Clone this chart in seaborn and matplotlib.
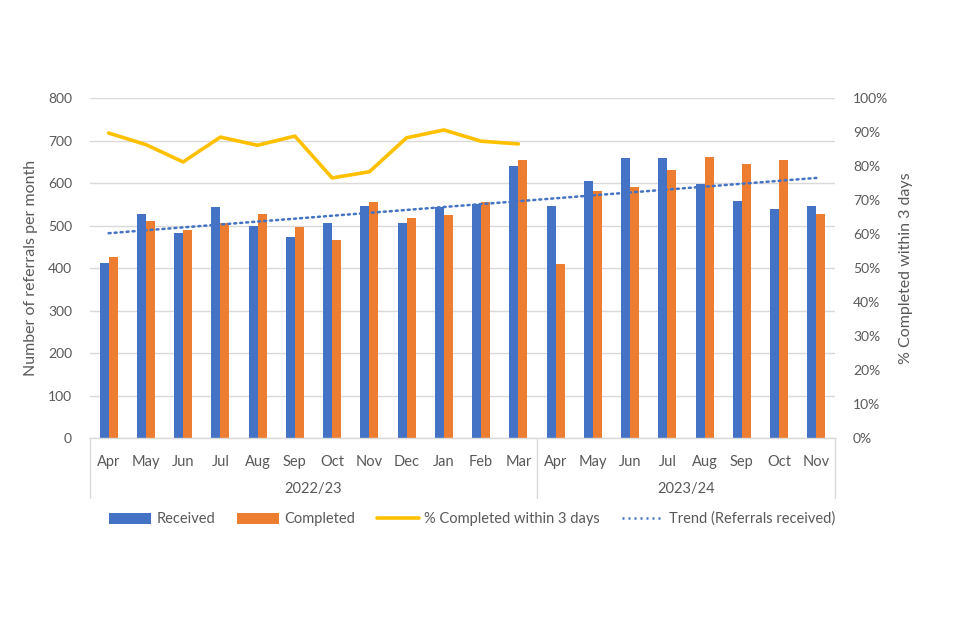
import numpy as np
import pandas as pd
import matplotlib
matplotlib.use("Agg")
import matplotlib.pyplot as plt
import matplotlib.transforms as mtransforms
from matplotlib.lines import Line2D
from matplotlib.patches import Patch
import seaborn as sns

# ---- data ----
months = ["Apr", "May", "Jun", "Jul", "Aug", "Sep", "Oct", "Nov", "Dec", "Jan", "Feb", "Mar",
          "Apr", "May", "Jun", "Jul", "Aug", "Sep", "Oct", "Nov"]
years = ["2022/23"] * 12 + ["2023/24"] * 8
received = [412, 526, 483, 544, 499, 474, 506, 547, 505, 543, 551, 640,
            545, 605, 660, 659, 597, 558, 540, 545]
completed = [426, 511, 490, 505, 526, 497, 467, 555, 518, 525, 555, 653,
             410, 581, 591, 631, 662, 644, 653, 528]
pct_within_3 = [0.897, 0.863, 0.812, 0.885, 0.861, 0.888, 0.765, 0.783,
                0.883, 0.906, 0.873, 0.865]
year_labels = ["2022/23", "2023/24"]

GREY = "#595959"
BLUE = "#4472C4"
ORANGE = "#ED7D31"
YELLOW = "#FFC000"

sns.set_theme(style="white")
plt.rcParams["font.family"] = ["Lato", "DejaVu Sans"]
FS = 10.5

cats = [f"{y} {m}" for y, m in zip(years, months)]
df = pd.DataFrame({
    "cat": cats * 2,
    "value": received + completed,
    "series": ["Received"] * len(cats) + ["Completed"] * len(cats),
})

fig = plt.figure(figsize=(9.6, 6.4), dpi=100)
ax = fig.add_axes([0.09375, 0.3156, 0.776, 0.53125])

sns.barplot(data=df, x="cat", y="value", hue="series", order=cats,
            hue_order=["Received", "Completed"], palette=[BLUE, ORANGE],
            saturation=1, width=0.48, gap=0, ax=ax, legend=False, zorder=2,
            edgecolor="none", linewidth=0)

# trend line (linear fit of received, as in the original spreadsheet trendline)
xs = np.arange(len(cats))
coef = np.polyfit(xs, received, 1)
ax.plot(xs, np.polyval(coef, xs), color=BLUE, lw=1.8,
        linestyle=(0, (0.8, 1.6)), zorder=3, dash_capstyle="round")

ax.set_ylim(0, 800)
ax.set_xlim(-0.5, len(cats) - 0.5)
ax.set_yticks(range(0, 801, 100))
ax.yaxis.grid(True, color="#D9D9D9", lw=1.0)
ax.set_axisbelow(True)
for s in ["top", "left", "right"]:
    ax.spines[s].set_visible(False)
ax.spines["bottom"].set_color("#D9D9D9")
ax.spines["bottom"].set_linewidth(1.0)
ax.set_xticks(xs)
ax.set_xticklabels(months, fontsize=FS, color=GREY)
ax.tick_params(axis="x", length=0, pad=12)
ax.tick_params(axis="y", length=0, labelsize=10, labelcolor=GREY, pad=13)
ax.set_xlabel("")
ax.set_ylabel("Number of referrals per month", fontsize=11.5, color=GREY)
ax.yaxis.set_label_coords(-0.07, 0.5)

# category group separators and year labels
trans = mtransforms.blended_transform_factory(ax.transData, ax.transAxes)
for xv in [-0.5, 11.5, len(cats) - 0.5]:
    ax.plot([xv, xv], [0, -0.175], transform=trans, color="#D9D9D9", lw=1.0, clip_on=False)
ax.text(5.5, -0.15, year_labels[0], transform=trans, ha="center", va="center",
        fontsize=FS, color=GREY)
ax.text(15.5, -0.15, year_labels[1], transform=trans, ha="center", va="center",
        fontsize=FS, color=GREY)

# secondary axis
ax2 = ax.twinx()
ax2.set_position(ax.get_position())
line_df = pd.DataFrame({"x": xs[:len(pct_within_3)], "pct": pct_within_3})
sns.lineplot(data=line_df, x="x", y="pct", ax=ax2, color=YELLOW, lw=2.6, zorder=4)
ax2.set_ylim(0, 1)
ax2.set_yticks(np.arange(0, 1.01, 0.1))
ax2.set_yticklabels([f"{int(round(v * 100))}%" for v in np.arange(0, 1.01, 0.1)])
ax2.tick_params(axis="y", length=0, labelsize=10, labelcolor=GREY, pad=13)
ax2.set_ylabel("% Completed within 3 days", fontsize=11.5, color=GREY)
ax2.yaxis.set_label_coords(1.086, 0.5)
ax2.set_xlabel("")
for s in ["top", "left", "right", "bottom"]:
    ax2.spines[s].set_visible(False)
ax2.grid(False)

handles = [
    Patch(facecolor=BLUE, edgecolor="none"),
    Patch(facecolor=ORANGE, edgecolor="none"),
    Line2D([0], [0], color=YELLOW, lw=2.6),
    Line2D([0], [0], color=BLUE, lw=1.8, linestyle=(0, (0.8, 1.6))),
]
labels = ["Received", "Completed", "% Completed within 3 days", "Trend (Referrals received)"]
leg = fig.legend(handles, labels, loc="center", bbox_to_anchor=(0.492, 0.189), ncol=4,
                 frameon=False, fontsize=FS, handlelength=2.9, handleheight=0.8,
                 columnspacing=1.5, handletextpad=0.35)
for t in leg.get_texts():
    t.set_color(GREY)

fig.savefig("out.png", dpi=100)
